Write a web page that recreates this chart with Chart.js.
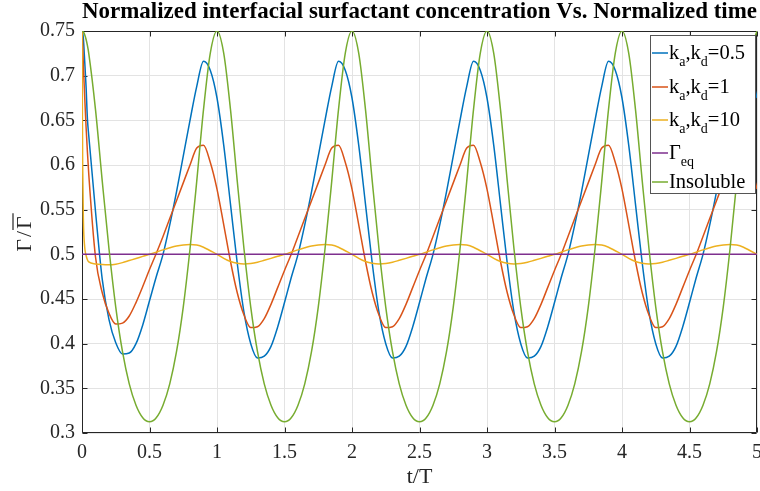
<!DOCTYPE html>
<html>
<head>
<meta charset="utf-8">
<script src="https://cdn.jsdelivr.net/npm/chart.js@4.4.1/dist/chart.umd.min.js"></script>
<style>
  html, body { margin: 0; padding: 0; background: #fff; }
</style>
</head>
<body>
<canvas id="surfChart" width="760" height="491"></canvas>
<script>
// normalized time t/T
const tNorm = [
  0, 0.005, 0.01, 0.02, 0.03, 0.04,
  0.05, 0.1, 0.15, 0.2, 0.25, 0.3, 0.35, 0.4, 0.45, 0.5, 0.55, 0.6, 0.65, 0.7, 0.75, 0.8, 0.85, 0.9, 0.95,
  1, 1.05, 1.1, 1.15, 1.2, 1.25, 1.3, 1.35, 1.4, 1.45, 1.5, 1.55, 1.6, 1.65, 1.7, 1.75, 1.8, 1.85, 1.9, 1.95,
  2, 2.05, 2.1, 2.15, 2.2, 2.25, 2.3, 2.35, 2.4, 2.45, 2.5, 2.55, 2.6, 2.65, 2.7, 2.75, 2.8, 2.85, 2.9, 2.95,
  3, 3.05, 3.1, 3.15, 3.2, 3.25, 3.3, 3.35, 3.4, 3.45, 3.5, 3.55, 3.6, 3.65, 3.7, 3.75, 3.8, 3.85, 3.9, 3.95,
  4, 4.05, 4.1, 4.15, 4.2, 4.25, 4.3, 4.35, 4.4, 4.45, 4.5, 4.55, 4.6, 4.65, 4.7, 4.75, 4.8, 4.85, 4.9, 4.95,
  5
];

// ka,kd = 0.5
const gammaK05 = [
  0.750, 0.748, 0.742, 0.716, 0.688, 0.652,
  0.633, 0.548, 0.472, 0.427, 0.401, 0.3885, 0.3895, 0.400, 0.421, 0.448, 0.475, 0.500, 0.533, 0.570, 0.610, 0.650, 0.688, 0.716, 0.706,
  0.675, 0.622, 0.556, 0.490, 0.435, 0.400, 0.384, 0.386, 0.397, 0.419, 0.446, 0.474, 0.500, 0.533, 0.570, 0.610, 0.650, 0.688, 0.716, 0.706,
  0.675, 0.622, 0.556, 0.490, 0.435, 0.400, 0.384, 0.386, 0.397, 0.419, 0.446, 0.474, 0.500, 0.533, 0.570, 0.610, 0.650, 0.688, 0.716, 0.706,
  0.675, 0.622, 0.556, 0.490, 0.435, 0.400, 0.384, 0.386, 0.397, 0.419, 0.446, 0.474, 0.500, 0.533, 0.570, 0.610, 0.650, 0.688, 0.716, 0.706,
  0.675, 0.622, 0.556, 0.490, 0.435, 0.400, 0.384, 0.386, 0.397, 0.419, 0.446, 0.474, 0.500, 0.533, 0.570, 0.610, 0.650, 0.688, 0.716, 0.706,
  0.675
];

// ka,kd = 1
const gammaK1 = [
  0.750, 0.735, 0.712, 0.676, 0.643, 0.615,
  0.590, 0.497, 0.457, 0.434, 0.422, 0.423, 0.431, 0.446, 0.464, 0.483, 0.501, 0.520, 0.540, 0.560, 0.580, 0.600, 0.619, 0.622, 0.603,
  0.573, 0.533, 0.492, 0.457, 0.432, 0.418, 0.419, 0.428, 0.444, 0.463, 0.482, 0.500, 0.520, 0.540, 0.560, 0.580, 0.600, 0.619, 0.622, 0.603,
  0.573, 0.533, 0.492, 0.457, 0.432, 0.418, 0.419, 0.428, 0.444, 0.463, 0.482, 0.500, 0.520, 0.540, 0.560, 0.580, 0.600, 0.619, 0.622, 0.603,
  0.573, 0.533, 0.492, 0.457, 0.432, 0.418, 0.419, 0.428, 0.444, 0.463, 0.482, 0.500, 0.520, 0.540, 0.560, 0.580, 0.600, 0.619, 0.622, 0.603,
  0.573, 0.533, 0.492, 0.457, 0.432, 0.418, 0.419, 0.428, 0.444, 0.463, 0.482, 0.500, 0.520, 0.540, 0.560, 0.580, 0.600, 0.619, 0.622, 0.603,
  0.573
];

// ka,kd = 10
const gammaK10 = [
  0.750, 0.600, 0.540, 0.508, 0.499, 0.494,
  0.4915, 0.4893, 0.4886, 0.4884, 0.4890, 0.4907, 0.4930, 0.4953, 0.4977, 0.5000, 0.5025, 0.5050, 0.5073, 0.5093, 0.5105, 0.5110, 0.5105, 0.5080, 0.5040,
  0.5000, 0.4955, 0.4920, 0.4900, 0.4893, 0.4898, 0.4912, 0.4933, 0.4955, 0.4978, 0.5000, 0.5025, 0.5050, 0.5073, 0.5093, 0.5105, 0.5110, 0.5105, 0.5080, 0.5040,
  0.5000, 0.4955, 0.4920, 0.4900, 0.4893, 0.4898, 0.4912, 0.4933, 0.4955, 0.4978, 0.5000, 0.5025, 0.5050, 0.5073, 0.5093, 0.5105, 0.5110, 0.5105, 0.5080, 0.5040,
  0.5000, 0.4955, 0.4920, 0.4900, 0.4893, 0.4898, 0.4912, 0.4933, 0.4955, 0.4978, 0.5000, 0.5025, 0.5050, 0.5073, 0.5093, 0.5105, 0.5110, 0.5105, 0.5080, 0.5040,
  0.5000, 0.4955, 0.4920, 0.4900, 0.4893, 0.4898, 0.4912, 0.4933, 0.4955, 0.4978, 0.5000, 0.5025, 0.5050, 0.5073, 0.5093, 0.5105, 0.5110, 0.5105, 0.5080, 0.5040,
  0.5000
];

// insoluble surfactant
const gammaInsoluble = [
  0.750, 0.7497, 0.7489, 0.7459, 0.7408, 0.7338,
  0.725, 0.662, 0.582, 0.506, 0.441, 0.391, 0.355, 0.331, 0.317, 0.3125, 0.317, 0.331, 0.355, 0.391, 0.441, 0.506, 0.582, 0.662, 0.725,
  0.750, 0.725, 0.662, 0.582, 0.506, 0.441, 0.391, 0.355, 0.331, 0.317, 0.3125, 0.317, 0.331, 0.355, 0.391, 0.441, 0.506, 0.582, 0.662, 0.725,
  0.750, 0.725, 0.662, 0.582, 0.506, 0.441, 0.391, 0.355, 0.331, 0.317, 0.3125, 0.317, 0.331, 0.355, 0.391, 0.441, 0.506, 0.582, 0.662, 0.725,
  0.750, 0.725, 0.662, 0.582, 0.506, 0.441, 0.391, 0.355, 0.331, 0.317, 0.3125, 0.317, 0.331, 0.355, 0.391, 0.441, 0.506, 0.582, 0.662, 0.725,
  0.750, 0.725, 0.662, 0.582, 0.506, 0.441, 0.391, 0.355, 0.331, 0.317, 0.3125, 0.317, 0.331, 0.355, 0.391, 0.441, 0.506, 0.582, 0.662, 0.725,
  0.750
];

// equilibrium level
const eqTimes = [0, 5];
const gammaEq = [0.5, 0.5];

const xTicks = [0, 0.5, 1, 1.5, 2, 2.5, 3, 3.5, 4, 4.5, 5];
const yTicks = [0.3, 0.35, 0.4, 0.45, 0.5, 0.55, 0.6, 0.65, 0.7, 0.75];

// legend rows, '_' marks a subscript piece
const legendRows = [
  ['k', '_a', ',k', '_d', '=0.5'],
  ['k', '_a', ',k', '_d', '=1'],
  ['k', '_a', ',k', '_d', '=10'],
  ['\u0393', '_eq'],
  ['Insoluble']
];

const serif = '"Liberation Serif", "Times New Roman", serif';
const axisColor = '#262626';
const colors = ['#0072BD', '#D95319', '#EDB120', '#7E2F8E', '#77AC30'];

const pts = (xs, ys) => xs.map((t, i) => ({ x: t, y: ys[i] }));

function fmt(v) {
  return String(Number(v.toFixed(2)));
}

// box, inward tick marks, y label with the bar, and the legend with subscripts
const frameAndLegend = {
  id: 'frameAndLegend',
  beforeDatasetsDraw(chart) {
    const { ctx, chartArea: a, scales } = chart;
    const L = Math.round(a.left) + 0.5, R = Math.round(a.right) - 0.5;
    const T = Math.round(a.top) + 0.5, B = Math.round(a.bottom) - 0.5;
    ctx.save();
    ctx.strokeStyle = axisColor;
    ctx.lineWidth = 1;
    ctx.beginPath();
    ctx.rect(L, T, R - L, B - T);
    xTicks.forEach(v => {
      const px = Math.round(scales.x.getPixelForValue(v)) + 0.5;
      ctx.moveTo(px, B); ctx.lineTo(px, B - 5);
      ctx.moveTo(px, T); ctx.lineTo(px, T + 5);
    });
    yTicks.forEach(v => {
      const py = Math.round(scales.y.getPixelForValue(v)) + 0.5;
      ctx.moveTo(L, py); ctx.lineTo(L + 5, py);
      ctx.moveTo(R, py); ctx.lineTo(R - 5, py);
    });
    ctx.stroke();
    ctx.restore();
  },
  afterDraw(chart) {
    const { ctx, chartArea: a } = chart;
    ctx.save();

    // y axis label: Gamma over Gamma-bar, rotated
    ctx.translate(31, (a.top + a.bottom) / 2 + 2);
    ctx.rotate(-Math.PI / 2);
    ctx.font = '22px ' + serif;
    ctx.fillStyle = axisColor;
    ctx.textBaseline = 'alphabetic';
    const gw = ctx.measureText('\u0393').width;
    const sw = ctx.measureText('/').width;
    const gap = 2;
    const total = gw + sw + gw + 2 * gap;
    let lx = -total / 2;
    ctx.fillText('\u0393', lx, 0);
    ctx.fillText('/', lx + gw + gap, 0);
    const barStart = lx + gw + sw + 2 * gap;
    ctx.fillText('\u0393', barStart, 0);
    ctx.strokeStyle = axisColor;
    ctx.lineWidth = 1.2;
    ctx.beginPath();
    ctx.moveTo(barStart - 1, -18);
    ctx.lineTo(barStart + gw + 3, -18);
    ctx.stroke();
    ctx.setTransform(1, 0, 0, 1, 0, 0);

    // legend
    ctx.fillStyle = '#fff';
    ctx.fillRect(650, 35, 105, 158);
    ctx.strokeStyle = '#555';
    ctx.lineWidth = 1;
    ctx.strokeRect(650.5, 35.5, 105, 158);
    const rowY = [53, 87, 120, 153, 182];
    legendRows.forEach((parts, i) => {
      const y = rowY[i];
      ctx.strokeStyle = colors[i];
      ctx.lineWidth = 1.5;
      ctx.beginPath();
      ctx.moveTo(652, y); ctx.lineTo(668, y);
      ctx.stroke();
      let x = 669;
      ctx.fillStyle = '#000';
      ctx.textBaseline = 'alphabetic';
      parts.forEach(p => {
        const sub = p[0] === '_';
        const txt = sub ? p.slice(1) : p;
        ctx.font = (sub ? '14px ' : '20.5px ') + serif;
        ctx.fillText(txt, x, y + 5.5 + (sub ? 7.5 : 0));
        x += ctx.measureText(txt).width;
      });
    });
    ctx.restore();
  }
};

const lineStyle = {
  pointRadius: 0,
  borderWidth: 1.5,
  fill: false,
  cubicInterpolationMode: 'monotone'
};

new Chart(document.getElementById('surfChart'), {
  type: 'line',
  data: {
    datasets: [
      { label: 'ka,kd=0.5', data: pts(tNorm, gammaK05), borderColor: colors[0], order: 4, ...lineStyle },
      { label: 'ka,kd=1', data: pts(tNorm, gammaK1), borderColor: colors[1], order: 3, ...lineStyle },
      { label: 'ka,kd=10', data: pts(tNorm, gammaK10), borderColor: colors[2], order: 2, ...lineStyle },
      { label: 'Gamma eq', data: pts(eqTimes, gammaEq), borderColor: colors[3], order: 1, ...lineStyle },
      { label: 'Insoluble', data: pts(tNorm, gammaInsoluble), borderColor: colors[4], order: 0, ...lineStyle }
    ]
  },
  options: {
    responsive: false,
    animation: false,
    events: [],
    devicePixelRatio: 1,
    layout: { padding: { left: 0, right: 3, top: 0, bottom: 0 } },
    plugins: {
      legend: { display: false },
      tooltip: { enabled: false },
      title: {
        display: true,
        fullSize: false,
        text: 'Normalized interfacial surfactant concentration Vs. Normalized time',
        color: '#000',
        font: { family: serif, size: 23, weight: 'bold', lineHeight: 1 },
        padding: { top: 1, bottom: 7 }
      }
    },
    scales: {
      x: {
        type: 'linear',
        min: 0,
        max: 5,
        afterBuildTicks: s => { s.ticks = xTicks.map(v => ({ value: v })); },
        afterFit: s => { s.height = 58; s.paddingLeft = 0; s.paddingRight = 0; },
        grid: { color: '#e3e3e3', drawTicks: false },
        border: { display: false },
        ticks: {
          color: axisColor,
          padding: 8,
          maxRotation: 0,
          font: { family: serif, size: 20 },
          callback: v => fmt(v)
        },
        title: {
          display: true,
          text: 't/T',
          color: axisColor,
          font: { family: serif, size: 22 },
          padding: { top: 0, bottom: 1 }
        }
      },
      y: {
        type: 'linear',
        min: 0.3,
        max: 0.75,
        afterBuildTicks: s => { s.ticks = yTicks.map(v => ({ value: v })); },
        afterFit: s => { s.width = 82; s.paddingTop = 0; s.paddingBottom = 0; },
        grid: { color: '#e3e3e3', drawTicks: false },
        border: { display: false },
        ticks: {
          color: axisColor,
          padding: 7,
          font: { family: serif, size: 20 },
          callback: v => fmt(v)
        }
      }
    }
  },
  plugins: [frameAndLegend]
});
</script>
</body>
</html>
